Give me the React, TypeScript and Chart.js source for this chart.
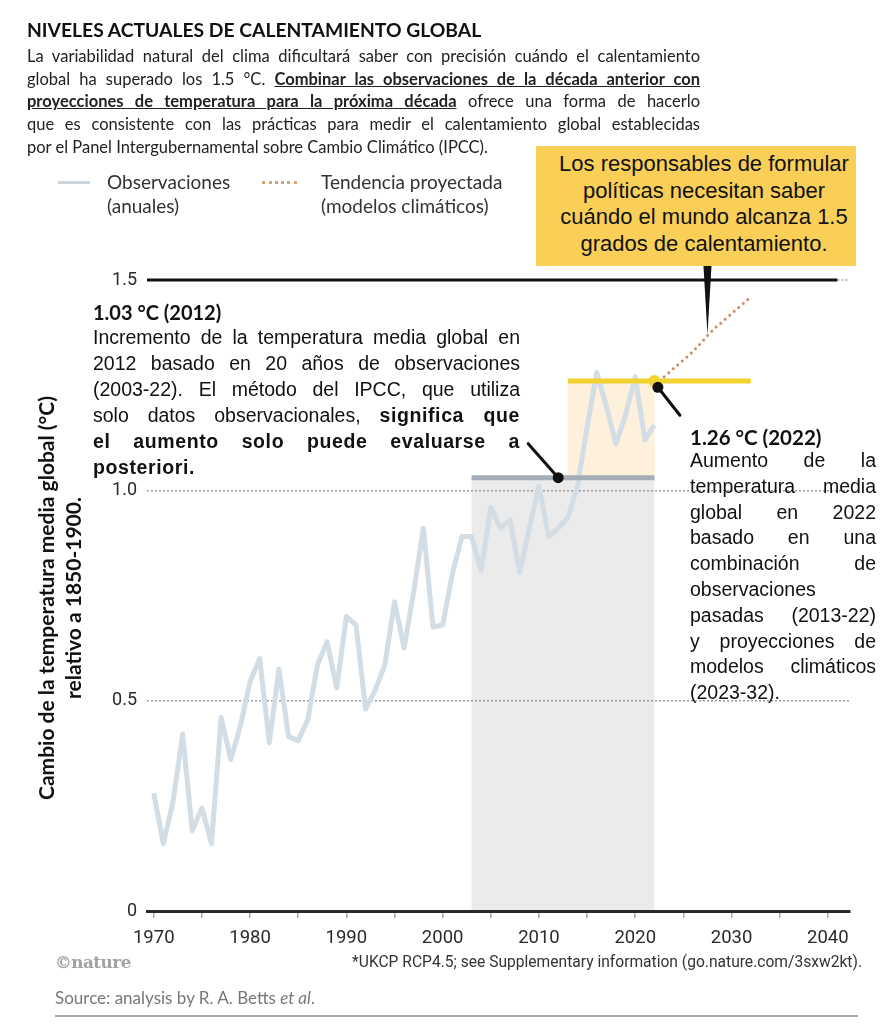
import React, { useEffect, useRef } from "react";
import { Chart, registerables } from "chart.js";

Chart.register(...registerables);

// ---------- DATA ----------
const obsYears = [
  1970, 1971, 1972, 1973, 1974, 1975, 1976, 1977, 1978, 1979,
  1980, 1981, 1982, 1983, 1984, 1985, 1986, 1987, 1988, 1989,
  1990, 1991, 1992, 1993, 1994, 1995, 1996, 1997, 1998, 1999,
  2000, 2001, 2002, 2003, 2004, 2005, 2006, 2007, 2008, 2009,
  2010, 2011, 2012, 2013, 2014, 2015, 2016, 2017, 2018, 2019,
  2020, 2021, 2022,
];
const obsValues = [
  0.28, 0.16, 0.26, 0.42, 0.19, 0.245, 0.16, 0.46, 0.36, 0.44,
  0.545, 0.6, 0.4, 0.575, 0.415, 0.405, 0.455, 0.585, 0.64, 0.53,
  0.7, 0.68, 0.48, 0.525, 0.585, 0.735, 0.625, 0.76, 0.91, 0.675,
  0.68, 0.8, 0.89, 0.89, 0.81, 0.96, 0.91, 0.93, 0.805, 0.91,
  1.01, 0.89, 0.91, 0.935, 1.01, 1.15, 1.28, 1.2, 1.11, 1.18,
  1.27, 1.12, 1.155,
];
const projYears = [2023, 2024, 2025, 2026, 2027, 2028, 2029, 2030, 2031, 2032];
const projValues = [1.27, 1.29, 1.31, 1.33, 1.355, 1.38, 1.4, 1.42, 1.44, 1.46];

const xTickValues = [
  1970, 1975, 1980, 1985, 1990, 1995, 2000, 2005, 2010, 2015,
  2020, 2025, 2030, 2035, 2040,
];
const yTickValues = [0, 0.5, 1.0, 1.5];

const window2012 = [2003, 2022];
const level2012 = 1.03;
const year2012 = 2012;
const window2022 = [2013, 2032];
const level2022 = 1.26;
const year2022 = 2022;
const thresholdValue = 1.5;
const thresholdEndYear = 2041;
const calloutYear = 2027.5;
const calloutTipValue = 1.37;

// ---------- PLUGINS ----------
const backgroundPlugin = {
  id: "bgRects",
  beforeDraw(chart: any) {
    const { ctx, width, height } = chart;
    const x = chart.scales.x;
    const y = chart.scales.y;
    ctx.save();
    ctx.fillStyle = "#ffffff";
    ctx.fillRect(0, 0, width, height);
    const gx0 = x.getPixelForValue(window2012[0]);
    const gx1 = x.getPixelForValue(window2012[1]);
    const gTop = y.getPixelForValue(level2012);
    const gBot = y.getPixelForValue(0);
    ctx.fillStyle = "#ebebeb";
    ctx.fillRect(gx0, gTop, gx1 - gx0, gBot - gTop);
    const ox0 = x.getPixelForValue(window2022[0]);
    const oTop = y.getPixelForValue(level2022);
    ctx.fillStyle = "#fdf1dc";
    ctx.fillRect(ox0, oTop, gx1 - ox0, gTop - oTop);
    ctx.restore();
  },
  beforeDatasetsDraw(chart: any) {
    const { ctx, chartArea } = chart;
    const x = chart.scales.x;
    const y = chart.scales.y;
    const ty = y.getPixelForValue(thresholdValue);
    const tEnd = x.getPixelForValue(thresholdEndYear);
    ctx.save();
    ctx.strokeStyle = "#111111";
    ctx.lineWidth = 3;
    ctx.beginPath();
    ctx.moveTo(chartArea.left, ty);
    ctx.lineTo(tEnd, ty);
    ctx.stroke();
    ctx.strokeStyle = "#aaaaaa";
    ctx.lineWidth = 1.5;
    ctx.setLineDash([2, 2]);
    ctx.beginPath();
    ctx.moveTo(tEnd, ty);
    ctx.lineTo(chartArea.right - 2, ty);
    ctx.stroke();
    ctx.restore();
  },
  afterDraw(chart: any) {
    const { ctx } = chart;
    const x = chart.scales.x;
    const y = chart.scales.y;
    ctx.save();
    ctx.strokeStyle = "#111111";
    ctx.lineWidth = 3;
    ctx.lineCap = "round";
    // pointer 2012
    const p1x = x.getPixelForValue(year2012);
    const p1y = y.getPixelForValue(level2012);
    ctx.beginPath();
    ctx.moveTo(p1x, p1y);
    ctx.lineTo(p1x - 30, p1y - 34);
    ctx.stroke();
    // pointer 2022
    const p2x = x.getPixelForValue(year2022 + 0.35);
    const p2y = y.getPixelForValue(level2022 - 0.015);
    ctx.beginPath();
    ctx.moveTo(p2x, p2y);
    ctx.lineTo(p2x + 22, p2y + 28);
    ctx.stroke();
    // callout triangle
    const cx = x.getPixelForValue(calloutYear);
    const cy = y.getPixelForValue(calloutTipValue);
    ctx.fillStyle = "#111111";
    ctx.beginPath();
    ctx.moveTo(cx - 4, 266);
    ctx.lineTo(cx + 4, 266);
    ctx.lineTo(cx, cy);
    ctx.closePath();
    ctx.fill();
    ctx.restore();
  },
};

// ---------- COMPONENT ----------
function ChartCanvas() {
  const ref = useRef<HTMLCanvasElement | null>(null);
  useEffect(() => {
    if (!ref.current) return;
    const chart = new Chart(ref.current, {
      type: "line",
      data: {
        datasets: [
          {
            type: "scatter",
            data: [{ x: year2022, y: level2022 }],
            pointRadius: 6,
            backgroundColor: "#f2d22e",
            borderWidth: 0,
            order: 0,
          } as any,
          {
            type: "scatter",
            data: [
              { x: year2012, y: level2012 },
              { x: year2022 + 0.35, y: level2022 - 0.015 },
            ],
            pointRadius: 5.5,
            backgroundColor: "#111111",
            borderWidth: 0,
            order: -1,
          } as any,
          {
            label: "proj",
            data: projYears.map((v, i) => ({ x: v, y: projValues[i] })),
            borderColor: "#cf8a62",
            borderWidth: 3,
            borderDash: [0, 6],
            borderCapStyle: "round",
            pointRadius: 0,
            tension: 0,
            order: 1,
          },
          {
            label: "level2022",
            data: [
              { x: window2022[0], y: level2022 },
              { x: window2022[1], y: level2022 },
            ],
            borderColor: "#f2d22e",
            borderWidth: 5,
            pointRadius: 0,
            order: 2,
          },
          {
            label: "level2012",
            data: [
              { x: window2012[0], y: level2012 },
              { x: window2012[1], y: level2012 },
            ],
            borderColor: "#a5adb9",
            borderWidth: 5,
            pointRadius: 0,
            order: 3,
          },
          {
            label: "obs",
            data: obsYears.map((v, i) => ({ x: v, y: obsValues[i] })),
            borderColor: "#d3dde6",
            borderWidth: 5,
            borderJoinStyle: "round",
            pointRadius: 0,
            tension: 0,
            order: 4,
          },
        ],
      },
      options: {
        animation: false,
        responsive: false,
        events: [],
        layout: { padding: { top: 280, right: 40, left: 0, bottom: 0 } },
        plugins: { legend: { display: false }, tooltip: { enabled: false } },
        scales: {
          x: {
            type: "linear",
            min: 1969.3,
            max: 2042.3,
            afterBuildTicks: (s: any) => {
              s.ticks = xTickValues.map((v) => ({ value: v }));
            },
            afterFit: (s: any) => {
              s.height = 113;
            },
            ticks: {
              callback: (v: any) => (Number(v) % 10 === 0 ? String(v) : ""),
              font: { family: "Roboto", size: 18.5 },
              color: "#2a2a2a",
              padding: 9,
              maxRotation: 0,
              autoSkip: false,
            },
            grid: {
              drawOnChartArea: false,
              drawTicks: true,
              tickLength: 7,
              color: "#aaaaaa",
              lineWidth: 1.5,
            },
            border: { display: true, color: "#2a2a2a", width: 3 },
          },
          y: {
            type: "linear",
            min: 0,
            max: 1.5,
            afterBuildTicks: (s: any) => {
              s.ticks = yTickValues.map((v) => ({ value: v }));
            },
            afterFit: (s: any) => {
              s.width = 147;
            },
            ticks: {
              callback: (v: any) => (Number(v) === 0 ? "0" : Number(v).toFixed(1)),
              font: { family: "Roboto", size: 18 },
              color: "#2a2a2a",
              padding: 10,
            },
            grid: {
              drawTicks: false,
              color: (c: any) =>
                c.tick && (c.tick.value === 0.5 || c.tick.value === 1)
                  ? "#9a9a9a"
                  : "rgba(0,0,0,0)",
              lineWidth: 1.5,
            },
            border: { display: false, dash: [2, 2] },
          },
        },
      } as any,
      plugins: [backgroundPlugin],
    });
    return () => chart.destroy();
  }, []);
  return (
    <canvas
      ref={ref}
      width={890}
      height={1024}
      style={{ position: "absolute", left: 0, top: 0, display: "block" }}
    />
  );
}

const justLine: React.CSSProperties = {
  whiteSpace: "nowrap",
  textAlign: "justify",
  textAlignLast: "justify" as any,
};
const lastLine: React.CSSProperties = { whiteSpace: "nowrap" };

function Lines({ lines, width }: { lines: React.ReactNode[]; width: number }) {
  return (
    <>
      {lines.map((l, i) => (
        <div key={i} style={{ ...(i < lines.length - 1 ? justLine : lastLine), width }}>
          {l}
        </div>
      ))}
    </>
  );
}

export default function App() {
  const ul: React.CSSProperties = { fontWeight: 700, textDecoration: "underline" };
  const b: React.CSSProperties = { fontWeight: 700, letterSpacing: 0.6 };
  return (
    <div
      style={{
        position: "absolute",
        left: 0,
        top: 0,
        width: 890,
        height: 1024,
        background: "#fff",
        overflow: "hidden",
      }}
    >
      <ChartCanvas />

      {/* Title */}
      <div
        style={{
          position: "absolute",
          left: 27,
          top: 19,
          fontFamily: "Lato",
          fontWeight: 700,
          fontSize: 19.3,
          lineHeight: "22px",
          color: "#111",
          whiteSpace: "nowrap",
        }}
      >
        NIVELES ACTUALES DE CALENTAMIENTO GLOBAL
      </div>

      {/* Intro */}
      <div
        style={{
          position: "absolute",
          left: 27,
          top: 45,
          fontFamily: "Lato",
          fontSize: 16.5,
          lineHeight: "22.7px",
          color: "#222",
        }}
      >
        <Lines
          width={673}
          lines={[
            "La variabilidad natural del clima dificultará saber con precisión cuándo el calentamiento",
            <>
              global ha superado los 1.5 °C.{" "}
              <span style={ul}>Combinar las observaciones de la década anterior con</span>
            </>,
            <>
              <span style={ul}>proyecciones de temperatura para la próxima década</span> ofrece
              una forma de hacerlo
            </>,
            "que es consistente con las prácticas para medir el calentamiento global establecidas",
            "por el Panel Intergubernamental sobre Cambio Climático (IPCC).",
          ]}
        />
      </div>

      {/* Legend */}
      <div
        style={{
          position: "absolute",
          left: 58,
          top: 181,
          width: 32,
          height: 3,
          background: "#cbd6e1",
        }}
      />
      <div
        style={{
          position: "absolute",
          left: 107,
          top: 170,
          fontFamily: "Lato",
          fontSize: 19,
          lineHeight: "24px",
          color: "#333",
          whiteSpace: "nowrap",
        }}
      >
        Observaciones
        <br />
        (anuales)
      </div>
      <div
        style={{
          position: "absolute",
          left: 262,
          top: 181,
          width: 35,
          height: 0,
          borderTop: "3px dotted #d9a07f",
        }}
      />
      <div
        style={{
          position: "absolute",
          left: 321,
          top: 170,
          fontFamily: "Lato",
          fontSize: 19,
          lineHeight: "24px",
          color: "#333",
          whiteSpace: "nowrap",
        }}
      >
        Tendencia proyectada
        <br />
        (modelos climáticos)
      </div>

      {/* Callout */}
      <div
        style={{
          position: "absolute",
          left: 536,
          top: 146,
          width: 320,
          height: 120,
          background: "#f9cf57",
          fontFamily: "Liberation Sans, Arial",
          fontSize: 22,
          lineHeight: "26.7px",
          color: "#111",
          textAlign: "center",
          paddingTop: 5,
          paddingLeft: 16,
          boxSizing: "border-box",
          whiteSpace: "nowrap",
        }}
      >
        Los responsables de formular
        <br />
        políticas necesitan saber
        <br />
        cuándo el mundo alcanza 1.5
        <br />
        grados de calentamiento.
      </div>

      {/* Left annotation */}
      <div
        style={{
          position: "absolute",
          left: 93,
          top: 299,
          fontFamily: "Lato",
          fontWeight: 700,
          fontSize: 20,
          lineHeight: "26px",
          color: "#111",
          whiteSpace: "nowrap",
        }}
      >
        1.03 °C (2012)
      </div>
      <div
        style={{
          position: "absolute",
          left: 93,
          top: 324,
          fontFamily: "Liberation Sans, Arial",
          fontSize: 19.5,
          lineHeight: "26px",
          color: "#111",
        }}
      >
        <Lines
          width={427}
          lines={[
            "Incremento de la temperatura media global en",
            "2012 basado en 20 años de observaciones",
            "(2003-22). El método del IPCC, que utiliza",
            <>
              solo datos observacionales, <span style={b}>significa que</span>
            </>,
            <span style={b}>el aumento solo puede evaluarse a</span>,
            <span style={b}>posteriori.</span>,
          ]}
        />
      </div>

      {/* Right annotation */}
      <div
        style={{
          position: "absolute",
          left: 690,
          top: 424,
          fontFamily: "Lato",
          fontWeight: 700,
          fontSize: 20.5,
          lineHeight: "26px",
          color: "#111",
          whiteSpace: "nowrap",
        }}
      >
        1.26 °C (2022)
      </div>
      <div
        style={{
          position: "absolute",
          left: 690,
          top: 448,
          fontFamily: "Liberation Sans, Arial",
          fontSize: 19.5,
          lineHeight: "25.8px",
          color: "#111",
        }}
      >
        <Lines
          width={186}
          lines={[
            "Aumento de la",
            "temperatura media",
            "global en 2022",
            "basado en una",
            "combinación de",
            "observaciones",
            "pasadas (2013-22)",
            "y proyecciones de",
            "modelos climáticos",
            "(2023-32).",
          ]}
        />
      </div>

      {/* Y axis title */}
      <div
        style={{
          position: "absolute",
          left: 58.5 - 240,
          top: 598 - 27,
          width: 480,
          height: 54,
          transform: "rotate(-90deg)",
          transformOrigin: "50% 50%",
          fontFamily: "Lato",
          fontWeight: 700,
          fontSize: 21,
          lineHeight: "27px",
          color: "#111",
          textAlign: "center",
          whiteSpace: "nowrap",
        }}
      >
        Cambio de la temperatura media global (°C)
        <br />
        relativo a 1850-1900.
      </div>

      {/* Footer */}
      <div
        style={{
          position: "absolute",
          left: 55,
          top: 950,
          fontFamily: "DejaVu Serif",
          fontWeight: 700,
          fontSize: 16.8,
          lineHeight: "24px",
          color: "#a3a3a3",
          letterSpacing: -0.5,
          whiteSpace: "nowrap",
        }}
      >
        ©nature
      </div>
      <div
        style={{
          position: "absolute",
          right: 28,
          top: 951,
          fontFamily: "Roboto",
          fontSize: 15.6,
          lineHeight: "22px",
          color: "#333",
          whiteSpace: "nowrap",
        }}
      >
        *UKCP RCP4.5; see Supplementary information (go.nature.com/3sxw2kt).
      </div>
      <div
        style={{
          position: "absolute",
          left: 55,
          top: 986,
          fontFamily: "Lato",
          fontSize: 17,
          lineHeight: "24px",
          color: "#777",
          whiteSpace: "nowrap",
        }}
      >
        Source: analysis by R. A. Betts <i>et al</i>.
      </div>
      <div
        style={{
          position: "absolute",
          left: 55,
          top: 1015,
          width: 803,
          height: 1.5,
          background: "#a8a8a8",
        }}
      />
    </div>
  );
}
